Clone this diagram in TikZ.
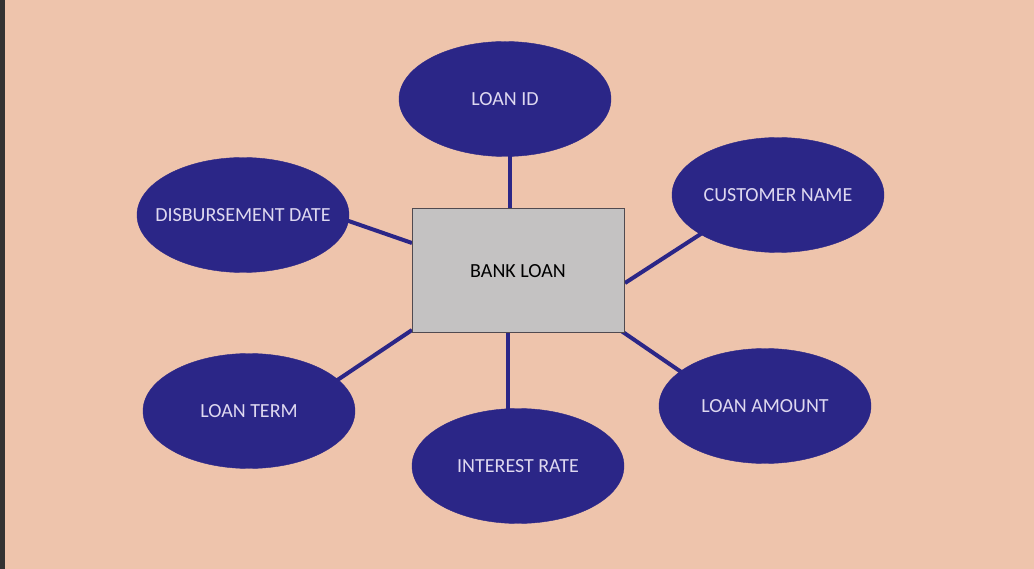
\documentclass[tikz,border=0pt]{standalone}
\usepackage{fontspec}
\setmainfont{Carlito}
\usetikzlibrary{shapes.geometric,backgrounds}
\definecolor{bg}{RGB}{238,196,172}
\definecolor{ell}{RGB}{43,38,135}
\definecolor{elltext}{RGB}{222,216,240}
\definecolor{boxfill}{RGB}{196,194,194}
\definecolor{boxline}{RGB}{80,74,80}
\tikzset{
  attr/.style={ellipse, fill=ell, draw=ell, minimum width=212pt, minimum height=115pt, inner xsep=-20pt, inner ysep=0pt, text=elltext, font=\fontsize{20}{24}\selectfont},
  entity/.style={rectangle, fill=boxfill, draw=boxline, line width=1pt, minimum width=212pt, minimum height=124pt, inner sep=0pt, font=\fontsize{20}{24}\selectfont},
  link/.style={draw=ell, line width=4pt}
}
\begin{document}
\begin{tikzpicture}[x=1pt,y=-1pt]
\begin{pgfonlayer}{background}
\fill[bg] (0,0) rectangle (1034,569);
\fill[black!80] (0,0) rectangle (5,569);
\end{pgfonlayer}
\useasboundingbox (0,0) rectangle (1034,569);
\node[entity] (bank) at (518,271) {BANK LOAN};
\node[attr] (id) at (505,99) {LOAN ID};
\node[attr] (cust) at (778,195) {CUSTOMER NAME};
\node[attr] (disb) at (243,215) {DISBURSEMENT DATE};
\node[attr] (term) at (249,411) {LOAN TERM};
\node[attr] (rate) at (518,466) {INTEREST RATE};
\node[attr] (amt) at (765,406) {LOAN AMOUNT};
\coordinate (bt) at (510,209);
\coordinate (br) at (625,283);
\coordinate (bl) at (412,243);
\coordinate (bll) at (412,330);
\coordinate (bb) at (508,333);
\coordinate (brr) at (617,328);
\coordinate (ce) at (710,228);
\coordinate (de) at (340,218);
\coordinate (te) at (330,385);
\coordinate (ae) at (690,378);
\begin{pgfonlayer}{background}
\draw[link] (id.center -| bt) -- (bt);
\draw[link] (ce) -- (br);
\draw[link] (de) -- (bl);
\draw[link] (te) -- (bll);
\draw[link] (rate.center -| bb) -- (bb);
\draw[link] (ae) -- (brr);
\end{pgfonlayer}
\end{tikzpicture}
\end{document}
